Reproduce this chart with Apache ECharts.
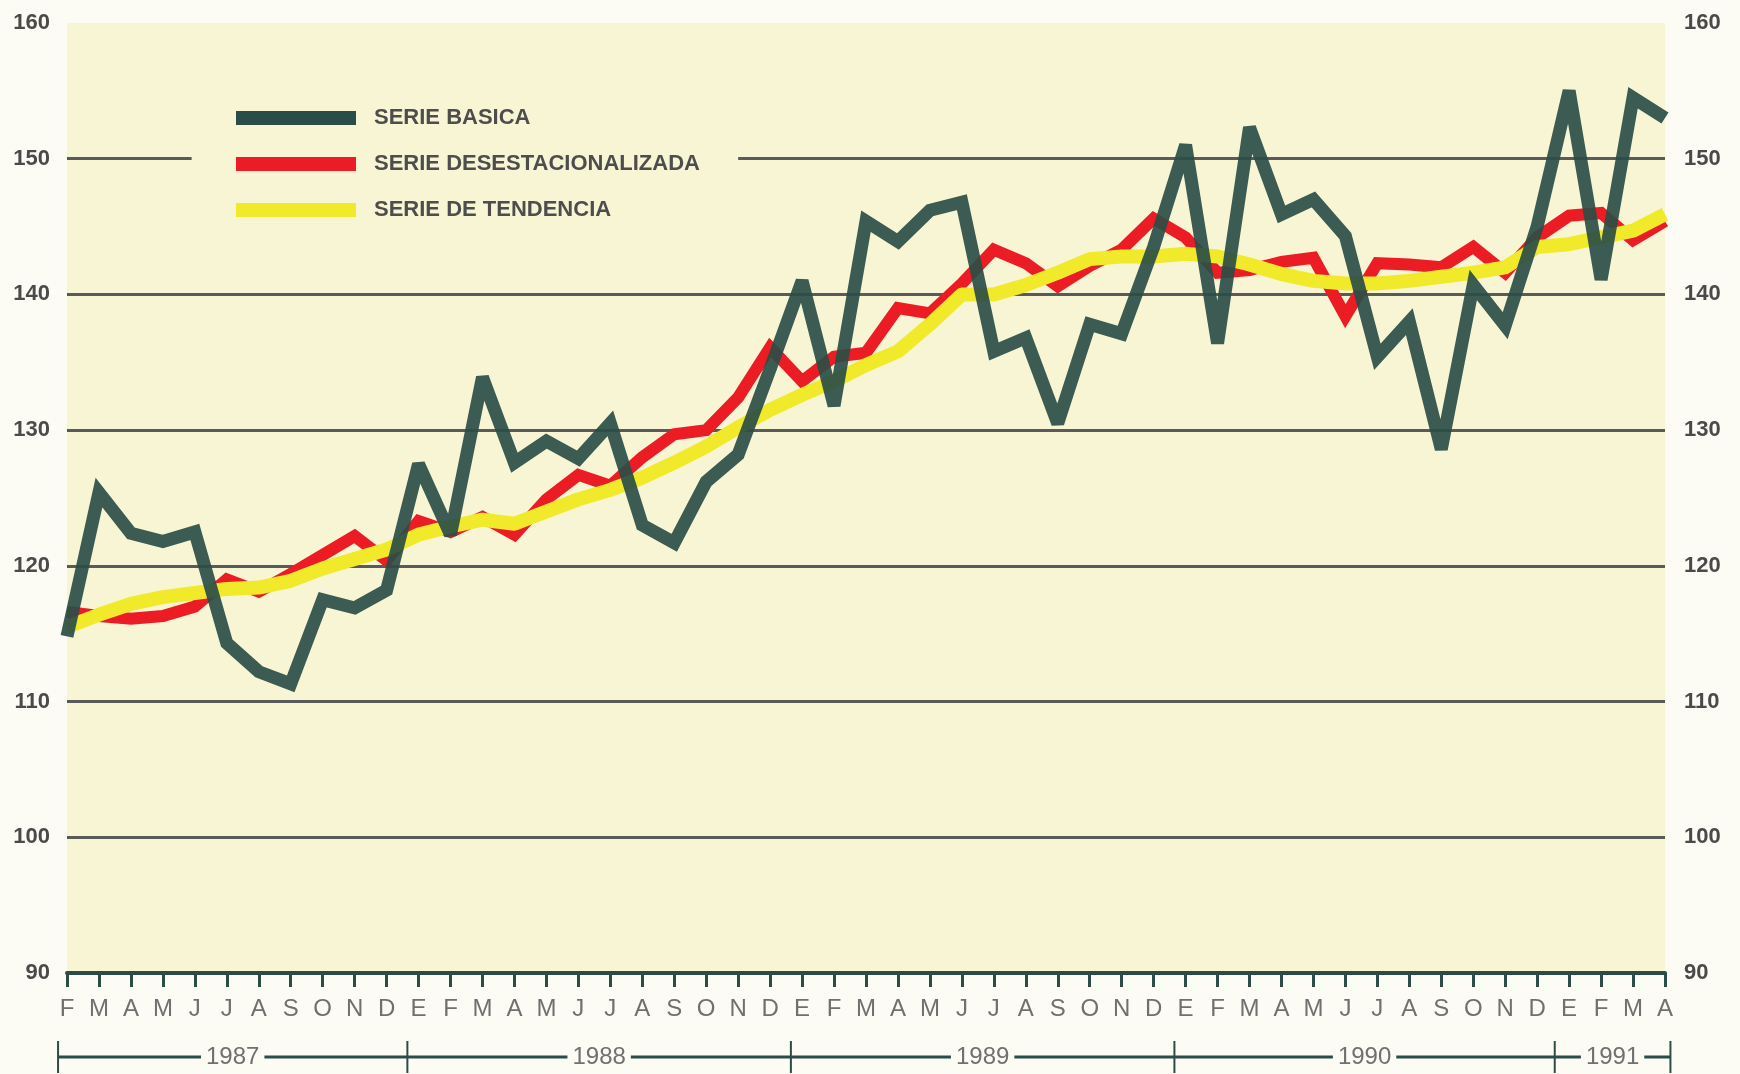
<!DOCTYPE html>
<html>
<head>
<meta charset="utf-8">
<title>Serie básica, desestacionalizada y de tendencia</title>
<script src="https://cdn.jsdelivr.net/npm/echarts@6/dist/echarts.min.js"></script>
<style>
  html, body { margin: 0; padding: 0; background: #fcfbf4; }
  #chart1 { width: 1740px; height: 1074px; }
</style>
</head>
<body>
<div id="chart1"></div>
<script>
// months Feb 1987 .. Apr 1991 (E = enero)
var meses = [
  'F', 'M', 'A', 'M', 'J', 'J', 'A', 'S', 'O', 'N', 'D',
  'E', 'F', 'M', 'A', 'M', 'J', 'J', 'A', 'S', 'O', 'N', 'D',
  'E', 'F', 'M', 'A', 'M', 'J', 'J', 'A', 'S', 'O', 'N', 'D',
  'E', 'F', 'M', 'A', 'M', 'J', 'J', 'A', 'S', 'O', 'N', 'D',
  'E', 'F', 'M', 'A'
];

var serieBasica = [
  114.8, 125.4, 122.4, 121.8, 122.5, 114.3, 112.2, 111.3, 117.5, 116.9, 118.2,
  127.5, 122.3, 133.9, 127.6, 129.2, 127.9, 130.5, 123.0, 121.7, 126.2, 128.2, 134.5,
  141.0, 131.8, 145.4, 143.9, 146.2, 146.8, 135.8, 136.8, 130.5, 137.8, 137.1, 143.5,
  151.0, 136.4, 152.3, 145.9, 147.0, 144.3, 135.4, 138.0, 128.6, 140.7, 137.7, 145.0,
  155.0, 141.1, 154.5, 153.0
];

var serieDesest = [
  116.6, 116.3, 116.1, 116.3, 117.0, 119.0, 118.1, 119.4, 120.8, 122.2, 120.4,
  123.3, 122.5, 123.6, 122.3, 124.9, 126.7, 125.9, 128.0, 129.7, 130.0, 132.4, 136.1,
  133.6, 135.4, 135.7, 139.0, 138.6, 140.8, 143.3, 142.3, 140.6, 142.1, 143.3, 145.6,
  144.2, 141.6, 141.8, 142.4, 142.7, 138.4, 142.3, 142.2, 142.0, 143.5, 141.6, 144.2,
  145.8, 146.0, 144.0, 145.4
];

var serieTendencia = [
  115.5, 116.4, 117.2, 117.7, 118.0, 118.3, 118.4, 118.9, 119.8, 120.5, 121.2,
  122.3, 122.9, 123.4, 123.1, 124.0, 124.9, 125.6, 126.5, 127.6, 128.8, 130.2, 131.5,
  132.6, 133.6, 134.8, 135.8, 137.8, 140.0, 140.0, 140.7, 141.6, 142.6, 142.8, 142.8,
  143.0, 142.8, 142.2, 141.5, 141.0, 140.8, 140.8, 141.0, 141.3, 141.6, 142.0, 143.5,
  143.7, 144.2, 144.7, 145.9
];

var anios = ['1987', '1988', '1989', '1990', '1991'];
// year limits, in month-index units on the x axis
var cortesAnio = [-0.28, 10.65, 22.65, 34.65, 46.55, 50.17];

var fondoPagina = '#fcfbf4';
var fondoGrafico = '#f8f5d4';
var verdeOscuro = '#2b4d47';
var fuente = '"Liberation Sans", Arial, sans-serif';

var myChart = echarts.init(document.getElementById('chart1'));

option = {
  backgroundColor: fondoPagina,
  animation: false,
  grid: {
    left: 67,
    right: 75,
    top: 23,
    bottom: 101,
    show: true,
    backgroundColor: fondoGrafico,
    borderWidth: 0
  },
  legend: {
    orient: 'vertical',
    left: 231,
    top: 102,
    itemWidth: 120,
    itemHeight: 14,
    itemGap: 24,
    icon: 'rect',
    selectedMode: false,
    data: ['SERIE BASICA', 'SERIE DESESTACIONALIZADA', 'SERIE DE TENDENCIA'],
    textStyle: {
      color: '#4d4d4d',
      fontSize: 22,
      fontWeight: 'bold',
      fontFamily: fuente,
      lineHeight: 22,
      padding: [0, 0, 0, 13]
    }
  },
  xAxis: {
    type: 'category',
    data: meses,
    boundaryGap: false,
    axisLine: { onZero: false, lineStyle: { color: verdeOscuro, width: 4 } },
    axisTick: { interval: 0, length: 14, lineStyle: { color: verdeOscuro, width: 3 } },
    axisLabel: { interval: 0, color: '#707070', fontSize: 24, fontFamily: fuente, margin: 24 },
    splitLine: { show: false }
  },
  yAxis: [
    {
      type: 'value',
      min: 90,
      max: 160,
      interval: 10,
      position: 'left',
      axisLine: { show: false },
      axisTick: { show: false },
      axisLabel: { color: '#4a4a4a', fontSize: 22, fontWeight: 'bold', fontFamily: fuente, margin: 17 },
      splitLine: {
        show: true,
        showMinLine: false,
        showMaxLine: false,
        lineStyle: { color: '#5a5a5a', width: 3 }
      }
    },
    {
      type: 'value',
      min: 90,
      max: 160,
      interval: 10,
      position: 'right',
      axisLine: { show: false },
      axisTick: { show: false },
      axisLabel: { color: '#4a4a4a', fontSize: 22, fontWeight: 'bold', fontFamily: fuente, margin: 19 },
      splitLine: { show: false }
    }
  ],
  series: [
    {
      name: 'SERIE DESESTACIONALIZADA',
      type: 'line',
      data: serieDesest,
      z: 2,
      symbol: 'none',
      color: '#ec1c24',
      lineStyle: { color: '#ec1c24', width: 12, join: 'miter', miterLimit: 3 },
      emphasis: { disabled: true }
    },
    {
      name: 'SERIE DE TENDENCIA',
      type: 'line',
      data: serieTendencia,
      z: 3,
      symbol: 'none',
      color: '#f1ea2a',
      lineStyle: { color: '#f1ea2a', width: 14, join: 'round' },
      emphasis: { disabled: true }
    },
    {
      name: 'SERIE BASICA',
      type: 'line',
      data: serieBasica,
      z: 4,
      symbol: 'none',
      color: verdeOscuro,
      lineStyle: { color: verdeOscuro, width: 13, opacity: 0.92, join: 'miter', miterLimit: 3 },
      emphasis: { disabled: true }
    }
  ]
};
myChart.setOption(option);

// pixel helpers from the chart's own scales
var x0 = myChart.convertToPixel({ xAxisIndex: 0 }, 0);
var paso = myChart.convertToPixel({ xAxisIndex: 0 }, 1) - x0;
function xMes(v) { return x0 + v * paso; }
var yBase = myChart.convertToPixel({ yAxisIndex: 0 }, 90);
var y150 = myChart.convertToPixel({ yAxisIndex: 0 }, 150);
var yLlave = yBase + 84;

var elementos = [];
// the 150 grid line is broken behind the legend
elementos.push({
  type: 'rect',
  z: 1,
  shape: { x: xMes(3.9), y: y150 - 4, width: xMes(21.0) - xMes(3.9), height: 8 },
  style: { fill: fondoGrafico }
});
// year bracket
elementos.push({
  type: 'line',
  z: 5,
  shape: { x1: xMes(cortesAnio[0]), y1: yLlave, x2: xMes(cortesAnio[cortesAnio.length - 1]), y2: yLlave },
  style: { stroke: verdeOscuro, lineWidth: 3 }
});
cortesAnio.forEach(function (c) {
  elementos.push({
    type: 'line',
    z: 5,
    shape: { x1: xMes(c), y1: yLlave - 16, x2: xMes(c), y2: yLlave + 16 },
    style: { stroke: verdeOscuro, lineWidth: 2 }
  });
});
anios.forEach(function (a, k) {
  elementos.push({
    type: 'text',
    z: 6,
    x: xMes((cortesAnio[k] + cortesAnio[k + 1]) / 2),
    y: yLlave,
    style: {
      text: a,
      align: 'center',
      verticalAlign: 'middle',
      fill: '#707070',
      font: '24px ' + fuente,
      backgroundColor: fondoPagina,
      padding: [2, 5]
    }
  });
});
myChart.setOption({ graphic: elementos });
</script>
</body>
</html>
